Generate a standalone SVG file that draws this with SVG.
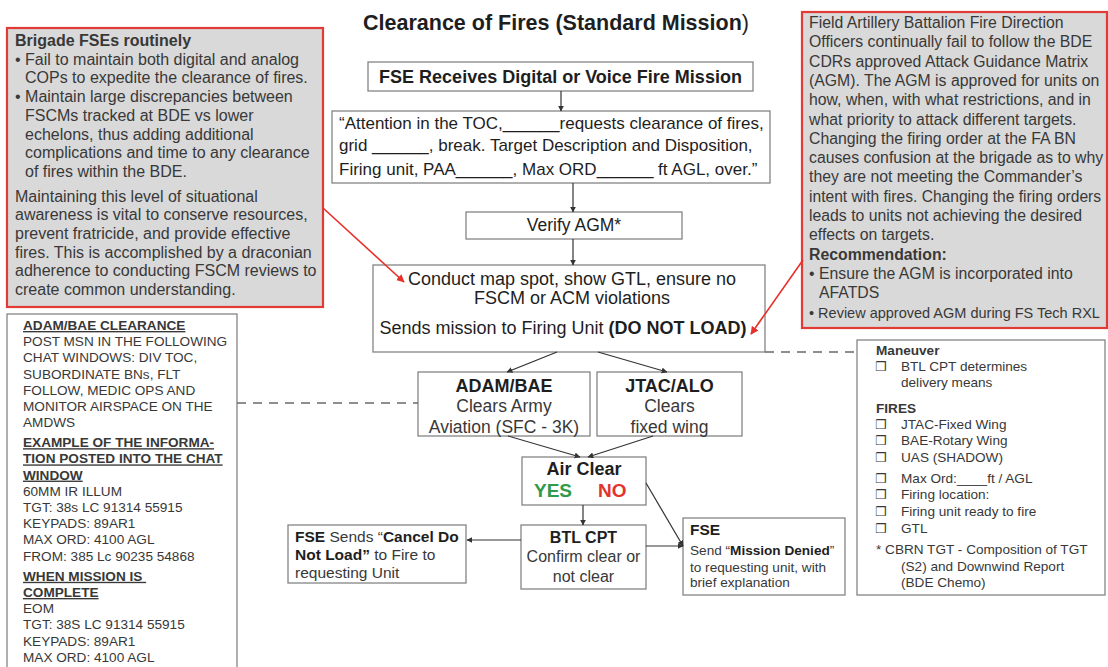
<svg xmlns="http://www.w3.org/2000/svg" width="1108" height="667" viewBox="0 0 1108 667">
<style>
  text { font-family: "Liberation Sans", Arial, sans-serif; }
  .box { fill: #ffffff; stroke: #858585; stroke-width: 1.3; }
  .note { fill: #d9d9d9; stroke: #e23a35; stroke-width: 2.2; }
  .k { fill: #1e1e1e; }
  .g { fill: #383838; }
  .b { font-weight: bold; }
  .u { text-decoration: underline; }
  .f18 { font-size: 18px; }
  .f17 { font-size: 17px; }
  .f16 { font-size: 16px; }
  .f15 { font-size: 15.5px; }
  .f14 { font-size: 13.6px; }
  .mid { text-anchor: middle; }
  .cb { font-family: "DejaVu Sans", sans-serif; font-size: 12.5px; }
  .ln { stroke: #333333; stroke-width: 1.2; fill: none; }
  .red { stroke: #e8302a; stroke-width: 1.6; fill: none; }
  .dash { stroke: #6a6a6a; stroke-width: 1.3; stroke-dasharray: 9 7; fill: none; }
</style>
<defs>
  <marker id="ah" viewBox="0 0 10 10" refX="9" refY="5" markerWidth="6" markerHeight="6" markerUnits="userSpaceOnUse" orient="auto">
    <path d="M0,0 L10,5 L0,10 z" fill="#333333"/>
  </marker>
  <marker id="ahr" viewBox="0 0 10 10" refX="9" refY="5" markerWidth="8" markerHeight="8" markerUnits="userSpaceOnUse" orient="auto">
    <path d="M0,0 L10,5 L0,10 z" fill="#e8302a"/>
  </marker>
</defs>

<rect width="1108" height="667" fill="#ffffff"/>

<g id="title">
  <text x="556" y="30" class="mid b k" font-size="21.5">Clearance of Fires (Standard Mission<tspan font-weight="normal">)</tspan></text>
</g>

<!-- Left note: brigade FSE shortfalls -->
<g id="note-brigade">
  <rect class="note" x="7" y="28" width="316" height="279"/>
  <g class="g f16">
    <text x="15" y="46" class="b">Brigade FSEs routinely</text>
    <text x="15" y="64.7">• Fail to maintain both digital and analog</text>
    <text x="25" y="83.4">COPs to expedite the clearance of fires.</text>
    <text x="15" y="102.1">• Maintain large discrepancies between</text>
    <text x="25" y="120.8">FSCMs tracked at BDE vs lower</text>
    <text x="25" y="139.5">echelons, thus adding additional</text>
    <text x="25" y="158.2">complications and time to any clearance</text>
    <text x="25" y="176.9">of fires within the BDE.</text>
    <text x="15" y="201.6">Maintaining this level of situational</text>
    <text x="15" y="220.3">awareness is vital to conserve resources,</text>
    <text x="15" y="239">prevent fratricide, and provide effective</text>
    <text x="15" y="257.7">fires. This is accomplished by a draconian</text>
    <text x="15" y="276.4">adherence to conducting FSCM reviews to</text>
    <text x="15" y="295.1">create common understanding.</text>
  </g>
</g>

<!-- Right note: FA battalion FDO shortfalls -->
<g id="note-fdo">
  <rect class="note" x="802" y="12" width="305" height="316"/>
  <g class="g" font-size="15.8">
    <text x="809" y="28">Field Artillery Battalion Fire Direction</text>
    <text x="809" y="47.3">Officers continually fail to follow the BDE</text>
    <text x="809" y="66.6">CDRs approved Attack Guidance Matrix</text>
    <text x="809" y="85.9">(AGM). The AGM is approved for units on</text>
    <text x="809" y="105.2">how, when, with what restrictions, and in</text>
    <text x="809" y="124.5">what priority to attack different targets.</text>
    <text x="809" y="143.8">Changing the firing order at the FA BN</text>
    <text x="809" y="163.1">causes confusion at the brigade as to why</text>
    <text x="809" y="182.4">they are not meeting the Commander’s</text>
    <text x="809" y="201.7" font-size="15.6">intent with fires. Changing the firing orders</text>
    <text x="809" y="221">leads to units not achieving the desired</text>
    <text x="809" y="240.3">effects on targets.</text>
    <text x="809" y="259.6" class="b">Recommendation:</text>
    <text x="809" y="278.9">• Ensure the AGM is incorporated into</text>
    <text x="819" y="298.2">AFATDS</text>
    <text x="809" y="317.5" font-size="14.5">• Review approved AGM during FS Tech RXL</text>
  </g>
</g>

<g id="fse-receives">
  <rect class="box" x="368" y="62" width="385" height="29"/>
  <text x="560.5" y="83" class="mid b k f18">FSE Receives Digital or Voice Fire Mission</text>
</g>

<g id="toc-call">
  <rect class="box" x="332" y="111" width="438" height="72"/>
  <g class="k f17">
    <text x="339" y="129">“Attention in the TOC,______requests clearance of fires,</text>
    <text x="339" y="151">grid ______, break. Target Description and Disposition,</text>
    <text x="339" y="175">Firing unit, PAA______, Max ORD______ ft AGL, over.”</text>
  </g>
</g>

<g id="verify-agm">
  <rect class="box" x="466" y="212" width="216" height="27"/>
  <text x="574" y="231" class="mid k" font-size="17.5">Verify AGM*</text>
</g>

<g id="map-spot">
  <rect class="box" x="373" y="265" width="392" height="87"/>
  <g class="k f18">
    <text x="572" y="285" class="mid">Conduct map spot, show GTL, ensure no</text>
    <text x="572" y="304" class="mid">FSCM or ACM violations</text>
    <text x="563" y="334" class="mid">Sends mission to Firing Unit <tspan class="b">(DO NOT LOAD)</tspan></text>
  </g>
</g>

<g id="adam-bae">
  <rect class="box" x="418" y="372" width="172" height="64"/>
  <text x="504" y="392" class="mid b k f18">ADAM/BAE</text>
  <text x="504" y="412" class="mid g" font-size="17.5">Clears Army</text>
  <text x="504" y="433" class="mid g" font-size="17.5">Aviation (SFC - 3K)</text>
</g>

<g id="jtac-alo">
  <rect class="box" x="597" y="372" width="145" height="64"/>
  <text x="669.5" y="392" class="mid b k f18">JTAC/ALO</text>
  <text x="669.5" y="412" class="mid g" font-size="17.5">Clears</text>
  <text x="669.5" y="433" class="mid g" font-size="17.5">fixed wing</text>
</g>

<g id="air-clear">
  <rect class="box" x="522" y="457" width="124" height="48"/>
  <text x="584" y="475" class="mid b k f18">Air Clear</text>
  <text x="534" y="497" class="b" font-size="19" fill="#2f9a4a">YES</text>
  <text x="598" y="497" class="b" font-size="19" fill="#e3342b">NO</text>
</g>

<g id="btl-cpt">
  <rect class="box" x="521" y="525" width="125" height="64"/>
  <text x="583.5" y="543" class="mid b k f16">BTL CPT</text>
  <text x="583.5" y="562" class="mid g f16">Confirm clear or</text>
  <text x="583.5" y="582" class="mid g f16">not clear</text>
</g>

<g id="fse-cancel">
  <rect class="box" x="288" y="525" width="178" height="58"/>
  <g class="g f15">
    <text x="295" y="542"><tspan class="b k">FSE</tspan> Sends “<tspan class="b k">Cancel Do</tspan></text>
    <text x="295" y="560"><tspan class="b k">Not Load”</tspan> to Fire to</text>
    <text x="295" y="578">requesting Unit</text>
  </g>
</g>

<g id="fse-denied">
  <rect class="box" x="683" y="518" width="162" height="77"/>
  <text x="690" y="535" class="b k f15">FSE</text>
  <g class="g f14">
    <text x="690" y="555">Send “<tspan class="b k">Mission Denied</tspan>”</text>
    <text x="690" y="572">to requesting unit, with</text>
    <text x="690" y="587">brief explanation</text>
  </g>
</g>

<!-- Chat window posting checklist -->
<g id="adam-bae-clearance">
  <rect class="box" x="7" y="314" width="230" height="370"/>
  <g class="g f14">
    <text x="23" y="330" class="b u">ADAM/BAE CLEARANCE</text>
    <text x="23" y="346.2">POST MSN IN THE FOLLOWING</text>
    <text x="23" y="362.4">CHAT WINDOWS: DIV TOC,</text>
    <text x="23" y="378.6">SUBORDINATE BNs, FLT</text>
    <text x="23" y="394.8">FOLLOW, MEDIC OPS AND</text>
    <text x="23" y="411">MONITOR AIRSPACE ON THE</text>
    <text x="23" y="427.2">AMDWS</text>
    <text x="23" y="447.2" class="b u">EXAMPLE OF THE INFORMA-</text>
    <text x="23" y="463.4" class="b u">TION POSTED INTO THE CHAT</text>
    <text x="23" y="479.6" class="b u">WINDOW</text>
    <text x="23" y="495.8">60MM IR ILLUM</text>
    <text x="23" y="512">TGT: 38s LC 91314 55915</text>
    <text x="23" y="528.2">KEYPADS: 89AR1</text>
    <text x="23" y="544.4">MAX ORD: 4100 AGL</text>
    <text x="23" y="560.6">FROM: 385 Lc 90235 54868</text>
    <text x="23" y="580.8" class="b u" xml:space="preserve" style="white-space:pre">WHEN MISSION IS </text>
    <text x="23" y="597" class="b u">COMPLETE</text>
    <text x="23" y="613.2">EOM</text>
    <text x="23" y="629.4">TGT: 38S LC 91314 55915</text>
    <text x="23" y="645.6">KEYPADS: 89AR1</text>
    <text x="23" y="661.8">MAX ORD: 4100 AGL</text>
  </g>
</g>

<!-- Maneuver / fires checklist -->
<g id="checklist">
  <rect class="box" x="857" y="340" width="248" height="255"/>
  <g class="g f14">
    <text x="876" y="355" class="b">Maneuver</text>
    <text x="875" y="371" class="cb">❒</text><text x="901" y="371">BTL CPT determines</text>
    <text x="901" y="387">delivery means</text>
    <text x="876" y="413" class="b">FIRES</text>
    <text x="875" y="429" class="cb">❒</text><text x="901" y="429">JTAC-Fixed Wing</text>
    <text x="875" y="445" class="cb">❒</text><text x="901" y="445">BAE-Rotary Wing</text>
    <text x="875" y="462" class="cb">❒</text><text x="901" y="462">UAS (SHADOW)</text>
    <text x="875" y="483" class="cb">❒</text><text x="901" y="483">Max Ord:____ft / AGL</text>
    <text x="875" y="499" class="cb">❒</text><text x="901" y="499">Firing location:</text>
    <text x="875" y="516" class="cb">❒</text><text x="901" y="516">Firing unit ready to fire</text>
    <text x="875" y="533" class="cb">❒</text><text x="901" y="533">GTL</text>
    <text x="876" y="554">* CBRN TGT - Composition of TGT</text>
    <text x="901" y="571">(S2) and Downwind Report</text>
    <text x="901" y="587">(BDE Chemo)</text>
  </g>
</g>

<g id="connectors">
  <line class="ln" x1="561" y1="91" x2="561" y2="111" marker-end="url(#ah)"/>
  <line class="ln" x1="573" y1="183" x2="573" y2="212" marker-end="url(#ah)"/>
  <line class="ln" x1="573" y1="239" x2="573" y2="265" marker-end="url(#ah)"/>
  <line class="ln" x1="557" y1="352" x2="507" y2="372" marker-end="url(#ah)"/>
  <line class="ln" x1="598" y1="352" x2="667" y2="372" marker-end="url(#ah)"/>
  <line class="ln" x1="508" y1="436" x2="580" y2="457" marker-end="url(#ah)"/>
  <line class="ln" x1="653" y1="436" x2="588" y2="457" marker-end="url(#ah)"/>
  <line class="ln" x1="583" y1="505" x2="583" y2="525" marker-end="url(#ah)"/>
  <line class="ln" x1="521" y1="540" x2="467" y2="540" marker-end="url(#ah)"/>
  <line class="ln" x1="646" y1="546" x2="683" y2="546" marker-end="url(#ah)"/>
  <line class="ln" x1="646" y1="483" x2="683" y2="546" marker-end="url(#ah)"/>
  <line class="red" x1="323" y1="208" x2="404" y2="282" marker-end="url(#ahr)"/>
  <line class="red" x1="803" y1="260" x2="751" y2="334" marker-end="url(#ahr)"/>
  <line class="dash" x1="237" y1="403" x2="418" y2="403"/>
  <line class="dash" x1="765" y1="352" x2="857" y2="352"/>
</g>
</svg>
